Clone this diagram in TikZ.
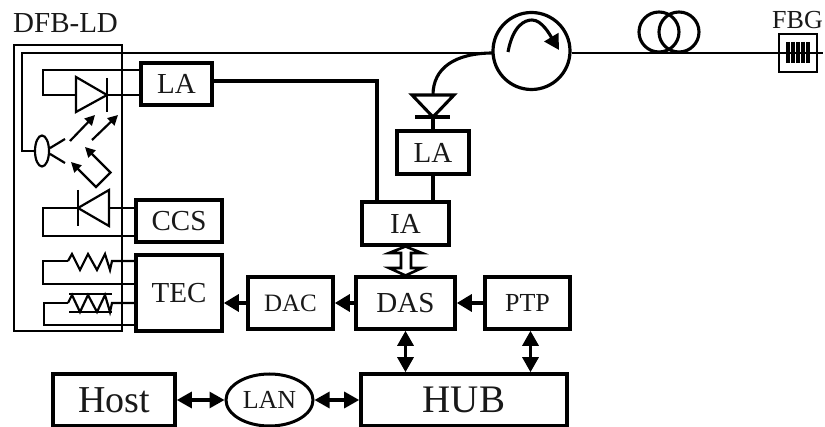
\documentclass[tikz,border=0pt]{standalone}
\usepackage{fontspec}
\setmainfont{Liberation Serif}
\usetikzlibrary{arrows.meta,calc,shapes.geometric}
\newcommand{\fsz}[1]{\fontsize{#1}{#1}\selectfont}
\tikzset{
  blk/.style={draw=black,line width=3.6pt,fill=white,inner sep=0pt,text=black!90},
  lbl/.style={inner sep=0pt,text=black!90},
  wire/.style={draw=black,line width=2.6pt},
  thin wire/.style={draw=black,line width=2.2pt},
  bold wire/.style={draw=black,line width=3.1pt},
  big/.style={-{Triangle[length=15pt,width=17pt]}},
  both/.style={{Triangle[length=15pt,width=16pt]}-{Triangle[length=15pt,width=16pt]}},
  small/.style={-{Triangle[length=10pt,width=10pt]},line width=2.2pt}
}
\begin{document}
\begin{tikzpicture}[x=1pt,y=-1pt]
\useasboundingbox (0,0) rectangle (825,427);
\fill[white] (0,0) rectangle (825,427);
% coordinates of the optical path
\coordinate (fibL) at (22,53);
\coordinate (ellL) at (35,151);
\coordinate (d1in) at (76,95);
\coordinate (d1k) at (107,95);
\coordinate (d2k) at (78,208);
\coordinate (d2a) at (109,208);
\coordinate (r1a) at (68,261);
\coordinate (r1b) at (112,261);
\coordinate (r2a) at (68,303);
\coordinate (r2b) at (112,303);
\coordinate (d3t) at (433,95);
\coordinate (d3k) at (433,117);
\coordinate (fibR) at (823,53);
% frame
\draw[line width=2.6pt] (14,45) rectangle (122,331);
% blocks
\node[blk,minimum width=71pt,minimum height=42pt,font=\fsz{29}] (la1) at (176.5,84) {LA};
\node[blk,minimum width=86pt,minimum height=42pt,font=\fsz{29}] (ccs) at (179,221) {CCS};
\node[blk,minimum width=86pt,minimum height=76pt,font=\fsz{29}] (tec) at (179,293) {TEC};
\node[blk,minimum width=72pt,minimum height=43pt,font=\fsz{29}] (la2) at (433,152.5) {LA};
\node[blk,minimum width=87pt,minimum height=43pt,font=\fsz{29}] (ia) at (405.5,223.5) {IA};
\node[blk,minimum width=99pt,minimum height=52pt,font=\fsz{29}] (das) at (405.5,303) {DAS};
\node[blk,minimum width=85pt,minimum height=52pt,font=\fsz{26}] (ptp) at (527.5,303) {PTP};
\node[blk,minimum width=85pt,minimum height=52pt,font=\fsz{25}] (dac) at (290.5,303) {DAC};
\node[blk,minimum width=206pt,minimum height=52pt,font=\fsz{39}] (hub) at (464,400) {HUB};
\node[blk,minimum width=122pt,minimum height=52pt,font=\fsz{38}] (host) at (114,400) {Host};
\node[ellipse,draw=black,line width=3pt,fill=white,inner sep=0pt,text=black!90,minimum width=87pt,minimum height=52pt,font=\fsz{26}] (lan) at (269.5,400) {LAN};
\node[circle,draw=black,line width=3.2pt,fill=white,minimum size=77pt,inner sep=0pt] (circ) at (531.5,51) {};
\node[ellipse,draw=black,line width=2.2pt,inner sep=0pt,minimum width=14pt,minimum height=31pt] (ell) at (42,151) {};
\node[draw=black,line width=2pt,inner sep=0pt,minimum width=38pt,minimum height=38pt] (fbg) at (798,53) {};
% texts
\node[lbl,anchor=base west,font=\fsz{29}] (tdfb) at (13,33) {DFB-LD};
\node[lbl,anchor=base,font=\fsz{26}] (tfbg) at (797.5,29) {FBG};
% fibre
\draw[wire] (ell.west) -- (ell.west -| fibL) -- (fibL) -- (circ.west |- fibL);
\draw[wire] (circ.east |- fibR) -- (fibR);
\draw[bold wire] (d3t) .. controls (433,68) and (455,53) .. (493,53);
% coil
\draw[bold wire] (659,32) circle (20);
\draw[bold wire] (679,32) circle (20);
% grating
\foreach \gx in {788,793,798,803,808}
  \draw[line width=3.4pt] (\gx,42) -- (\gx,63);
% circulator arrow
\draw[bold wire,-{Triangle[length=15pt,width=16pt]}] (508,52) .. controls (513,25) and (525,20) .. (532,20) .. controls (542,20) and (550,35) .. (559,50);
% diode 1 + loop
\draw[thin wire] (76,77) -- (107,95) -- (76,112) -- cycle;
\draw[thin wire] (107,78) -- (107,112);
\draw[thin wire] (d1in) -- (d1in -| 43,0) -- (43,70) -- (43,70 -| la1.west);
\draw[thin wire] (d1k) -- (d1k -| la1.west);
% photons
\draw[thin wire] (ell.20) -- (65,139);
\draw[thin wire] (ell.-20) -- (65,163);
\draw[small] (70,141) -- (95,115);
\draw[small] (92,140) -- (118,115);
\draw[small,{Triangle[length=10pt,width=10pt]}-{Triangle[length=10pt,width=10pt]}] (85,147) -- (110.5,172.5) -- (96,187) -- (71,162);
% diode 2 + loop
\draw[thin wire] (109,190) -- (78,208) -- (109,226) -- cycle;
\draw[thin wire] (78,190) -- (78,226);
\draw[thin wire] (d2a) -- (d2a -| ccs.west);
\draw[thin wire] (d2k) -- (43,208) -- (43,236) -- (43,236 -| ccs.west);
% resistor
\draw[thin wire] (r1a) -- (43,261) -- (43,284) -- (43,284 -| tec.west);
\draw[thin wire] (r1a) -- (72,254) -- (80,270) -- (88,254) -- (97,270) -- (105,254) -- (110,270) -- (r1b) -- (r1b -| tec.west);
% thermistor
\draw[thin wire] (r2a) -- (44,303) -- (44,325) -- (44,325 -| tec.west);
\draw[thin wire] (r2a) -- (72,295) -- (80,312) -- (88,295) -- (97,312) -- (105,295) -- (110,312) -- (r2b) -- (r2b -| tec.west);
\draw[thin wire] (69,294) -- (112,294);
\draw[thin wire] (69,312) -- (112,312);
% diode 3
\draw[bold wire] (412,95) -- (454,95) -- (d3k) -- cycle;
\draw[bold wire] (415,117) -- (450,117);
\draw[bold wire] (d3k) -- (d3k |- la2.north);
% electrical
\draw[bold wire] (la1.east |- 0,81) -- (377,81) -- (377,81 |- ia.north);
\draw[bold wire] (la2.south) -- (la2.south |- ia.north);
\draw[bold wire,big] (ptp.west) -- (das.east);
\draw[bold wire,big] (das.west) -- (dac.east);
\draw[bold wire,big] (dac.west) -- (tec.east |- dac.west);
\draw[bold wire,both] (das.south) -- (das.south |- hub.north);
\draw[bold wire,both] (ptp.south -| 530.5,0) -- (530.5,0 |- hub.north);
\draw[bold wire,both] (host.east) -- (lan.west);
\draw[bold wire,both] (lan.east) -- (hub.west);
% hollow double arrow
\draw[line width=2.6pt,fill=white,line join=miter] (405.5,246.5) -- (422,253) -- (411,253) -- (411,268) -- (422,268) -- (405.5,275.5) -- (389,268) -- (401,268) -- (401,253) -- (389,253) -- cycle;
\end{tikzpicture}
\end{document}
